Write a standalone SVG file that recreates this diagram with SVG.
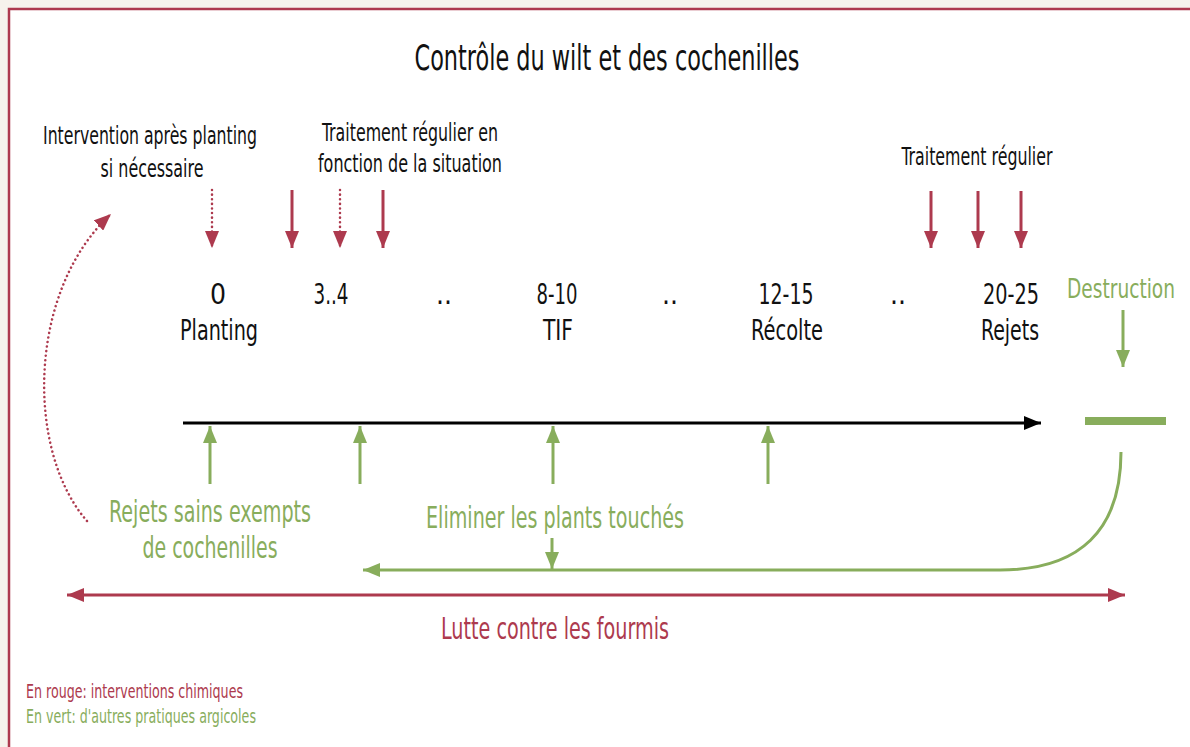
<svg xmlns="http://www.w3.org/2000/svg" width="1190" height="747" viewBox="0 0 1190 747">
<defs>
<style>
text{font-family:"Liberation Sans Narrow","DejaVu Sans Condensed","Liberation Sans",sans-serif;}
.k{fill:#111;}
.r{fill:#ad3a4e;}
.g{fill:#88ad5c;}
.title{font-size:36px;}
.lbl{font-size:24px;}
.num{font-size:28px;}
.dst{font-size:27px;}
.gl{font-size:30px;}
.leg{font-size:20px;}
.ra{stroke:#ad3a4e;stroke-width:3;fill:none;}
.rd{stroke:#ad3a4e;stroke-width:2.5;fill:none;stroke-dasharray:0.1 4.5;stroke-linecap:round;}
.ga{stroke:#88ad5c;stroke-width:3;fill:none;}
.ka{stroke:#000;stroke-width:3;fill:none;}
</style>
<marker id="mr" markerUnits="userSpaceOnUse" markerWidth="18" markerHeight="14" viewBox="0 0 18 14" refX="17" refY="7" orient="auto-start-reverse"><path d="M0,0 L17,7 L0,14 z" fill="#ad3a4e"/></marker>
<marker id="mg" markerUnits="userSpaceOnUse" markerWidth="18" markerHeight="14" viewBox="0 0 18 14" refX="17" refY="7" orient="auto"><path d="M0,0 L17,7 L0,14 z" fill="#88ad5c"/></marker>
<marker id="mk" markerUnits="userSpaceOnUse" markerWidth="18" markerHeight="14" viewBox="0 0 18 14" refX="17" refY="7" orient="auto"><path d="M0,0 L17,7 L0,14 z" fill="#000"/></marker>
</defs>
<rect x="0" y="0" width="1190" height="747" fill="#f6f3ec"/>
<rect x="9" y="9" width="1200" height="760" fill="#fff" stroke="#ad3a4e" stroke-width="2.5"/>

<g id="title"><text class="k title" x="607" y="70" text-anchor="middle" textLength="385" lengthAdjust="spacingAndGlyphs">Contrôle du wilt et des cochenilles</text></g>

<g id="intervention">
<text class="k lbl" x="150" y="144" text-anchor="middle" textLength="214" lengthAdjust="spacingAndGlyphs">Intervention après planting</text>
<text class="k lbl" x="152" y="177" text-anchor="middle" textLength="103" lengthAdjust="spacingAndGlyphs">si nécessaire</text>
</g>
<g id="traitement-situation">
<text class="k lbl" x="410" y="141" text-anchor="middle" textLength="176" lengthAdjust="spacingAndGlyphs">Traitement régulier en</text>
<text class="k lbl" x="410" y="172" text-anchor="middle" textLength="184" lengthAdjust="spacingAndGlyphs">fonction de la situation</text>
</g>
<g id="traitement-regulier">
<text class="k lbl" x="977" y="165" text-anchor="middle" textLength="151" lengthAdjust="spacingAndGlyphs">Traitement régulier</text>
</g>

<g id="t0"><text class="k num" x="218" y="304" text-anchor="middle">0</text><text class="k num" x="219" y="340" text-anchor="middle" textLength="78" lengthAdjust="spacingAndGlyphs">Planting</text></g>
<g id="t3"><text class="k num" x="331" y="304" text-anchor="middle" textLength="35" lengthAdjust="spacingAndGlyphs">3..4</text></g>
<g id="dots1"><text class="k num" x="444" y="304" text-anchor="middle">..</text></g>
<g id="t8"><text class="k num" x="557" y="304" text-anchor="middle" textLength="41" lengthAdjust="spacingAndGlyphs">8-10</text><text class="k num" x="558" y="340" text-anchor="middle" textLength="30" lengthAdjust="spacingAndGlyphs">TIF</text></g>
<g id="dots2"><text class="k num" x="670" y="304" text-anchor="middle">..</text></g>
<g id="t12"><text class="k num" x="786" y="304" text-anchor="middle" textLength="55" lengthAdjust="spacingAndGlyphs">12-15</text><text class="k num" x="787" y="340" text-anchor="middle" textLength="72" lengthAdjust="spacingAndGlyphs">Récolte</text></g>
<g id="dots3"><text class="k num" x="898" y="304" text-anchor="middle">..</text></g>
<g id="t20"><text class="k num" x="1011" y="304" text-anchor="middle" textLength="56" lengthAdjust="spacingAndGlyphs">20-25</text><text class="k num" x="1010" y="340" text-anchor="middle" textLength="58" lengthAdjust="spacingAndGlyphs">Rejets</text></g>
<g id="destruction"><text class="g dst" x="1121" y="298" text-anchor="middle" textLength="108" lengthAdjust="spacingAndGlyphs">Destruction</text>
<rect x="1085" y="417" width="81" height="8" fill="#88ad5c"/></g>

<g id="rejets-sains"><text class="g gl" x="210" y="522" text-anchor="middle" textLength="202" lengthAdjust="spacingAndGlyphs">Rejets sains exempts</text>
<text class="g gl" x="210" y="558" text-anchor="middle" textLength="135" lengthAdjust="spacingAndGlyphs">de cochenilles</text></g>
<g id="eliminer"><text class="g gl" x="555" y="528" text-anchor="middle" textLength="258" lengthAdjust="spacingAndGlyphs">Eliminer les plants touchés</text></g>
<g id="fourmis"><text class="r gl" x="555" y="639" text-anchor="middle" textLength="228" lengthAdjust="spacingAndGlyphs">Lutte contre les fourmis</text></g>
<g id="legend">
<text class="r leg" x="26" y="698" textLength="217" lengthAdjust="spacingAndGlyphs">En rouge: interventions chimiques</text>
<text class="g leg" x="26" y="723" textLength="230" lengthAdjust="spacingAndGlyphs">En vert: d'autres pratiques argicoles</text>
</g>

<g id="connectors">
<path class="rd" d="M212,190 L212,248" marker-end="url(#mr)"/>
<path class="ra" d="M292,190 L292,248" marker-end="url(#mr)"/>
<path class="rd" d="M340,190 L340,248" marker-end="url(#mr)"/>
<path class="ra" d="M383,190 L383,248" marker-end="url(#mr)"/>
<path class="ra" d="M931,191 L931,248" marker-end="url(#mr)"/>
<path class="ra" d="M978,191 L978,248" marker-end="url(#mr)"/>
<path class="ra" d="M1021,191 L1021,248" marker-end="url(#mr)"/>
<path class="ga" d="M1123,310 L1123,367" marker-end="url(#mg)"/>
<path class="ka" d="M183,423 L1041,423" marker-end="url(#mk)"/>
<path class="ga" d="M210,484 L210,426" marker-end="url(#mg)"/>
<path class="ga" d="M360,484 L360,426" marker-end="url(#mg)"/>
<path class="ga" d="M553,484 L553,426" marker-end="url(#mg)"/>
<path class="ga" d="M768,484 L768,426" marker-end="url(#mg)"/>
<path class="ga" d="M552,538 L552,569" marker-end="url(#mg)"/>
<path class="ga" d="M1121,452 C1121,530 1080,570 1000,570 L363,570" marker-end="url(#mg)"/>
<path class="ra" d="M67,595 L1125,595" marker-start="url(#mr)" marker-end="url(#mr)"/>
<path class="rd" d="M87,521 C25,450 28,290 111,214" marker-end="url(#mr)"/>
</g>
</svg>
